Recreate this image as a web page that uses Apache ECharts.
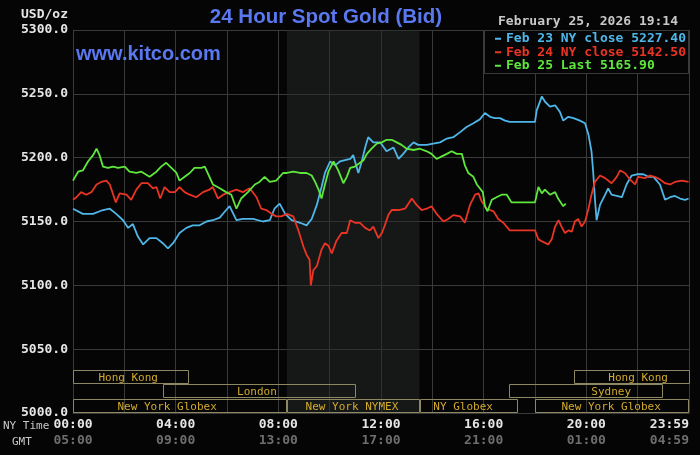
<!DOCTYPE html>
<html>
<head>
<meta charset="utf-8">
<script src="https://cdn.jsdelivr.net/npm/echarts@6/dist/echarts.min.js"></script>
<style>
html,body{margin:0;padding:0;background:#050506;}
#c{width:700px;height:455px;}
</style>
</head>
<body>
<div id="c"></div>
<script>
// ---------- data ----------
const seriesDays = ['Feb 23', 'Feb 24', 'Feb 25'];
const seriesKinds = ['NY close', 'NY close', 'Last'];
const seriesCloses = ['5227.40', '5142.50', '5165.90'];
const seriesColors = ['#4fb6e8', '#ea3424', '#5ee83c'];

// [minutes after 00:00 NY time, price]
const feb23 = [[0,5160],[23,5156],[47,5156],[70,5159],[86,5160],[101,5156],[117,5151],[129,5145],[140,5148],[152,5138],[164,5132],[179,5137],[195,5137],[210,5133],[222,5129],[234,5133],[249,5141],[265,5145],[280,5147],[296,5147],[312,5150],[327,5151],[343,5153],[358,5159],[366,5162],[382,5151],[397,5152],[421,5152],[444,5150],[460,5151],[471,5160],[483,5164],[496,5156],[511,5151],[531,5149],[546,5147],[558,5152],[570,5163],[581,5177],[589,5188],[601,5197],[613,5194],[624,5197],[636,5198],[648,5199],[655,5202],[667,5188],[675,5197],[683,5208],[690,5216],[702,5212],[718,5212],[733,5205],[749,5208],[761,5199],[772,5203],[784,5208],[796,5212],[807,5210],[827,5210],[842,5211],[858,5212],[874,5215],[889,5216],[905,5220],[920,5224],[936,5227],[951,5230],[963,5235],[975,5232],[986,5231],[998,5231],[1010,5229],[1021,5228],[1080,5228],[1084,5237],[1096,5248],[1103,5244],[1115,5240],[1127,5241],[1138,5236],[1146,5229],[1158,5232],[1170,5231],[1185,5229],[1197,5227],[1205,5218],[1212,5205],[1216,5189],[1220,5168],[1224,5151],[1232,5163],[1244,5171],[1251,5176],[1259,5171],[1271,5170],[1283,5169],[1294,5179],[1306,5186],[1318,5187],[1333,5187],[1345,5185],[1357,5185],[1372,5179],[1384,5167],[1396,5169],[1407,5170],[1419,5168],[1431,5167],[1439,5168]];

const feb24 = [[0,5167],[8,5169],[19,5173],[31,5171],[43,5173],[55,5179],[66,5181],[78,5182],[86,5179],[94,5171],[100,5165],[109,5172],[125,5171],[136,5167],[148,5175],[160,5180],[175,5180],[187,5176],[195,5177],[204,5168],[214,5177],[226,5173],[238,5173],[249,5177],[261,5173],[273,5171],[288,5169],[304,5173],[319,5175],[327,5177],[339,5168],[351,5171],[366,5173],[382,5175],[397,5173],[413,5176],[429,5169],[440,5160],[452,5159],[464,5156],[475,5154],[487,5154],[500,5156],[515,5154],[527,5143],[539,5130],[546,5124],[553,5120],[556,5100],[562,5112],[570,5115],[581,5128],[589,5133],[597,5131],[605,5125],[616,5135],[628,5141],[640,5141],[648,5151],[659,5149],[671,5149],[683,5145],[694,5143],[702,5146],[714,5137],[722,5141],[729,5147],[737,5155],[745,5159],[761,5159],[776,5160],[784,5164],[792,5168],[803,5163],[815,5159],[827,5160],[838,5162],[850,5156],[866,5150],[877,5152],[889,5155],[905,5154],[916,5149],[928,5163],[940,5171],[948,5172],[955,5166],[967,5160],[983,5158],[994,5152],[1006,5149],[1021,5143],[1080,5143],[1088,5136],[1099,5134],[1111,5132],[1119,5136],[1127,5146],[1135,5151],[1142,5146],[1150,5141],[1158,5143],[1166,5142],[1173,5150],[1181,5152],[1189,5146],[1197,5150],[1205,5160],[1212,5171],[1220,5181],[1232,5186],[1244,5184],[1259,5180],[1271,5185],[1279,5190],[1290,5188],[1302,5183],[1314,5179],[1321,5185],[1337,5184],[1349,5186],[1360,5185],[1372,5183],[1384,5180],[1396,5179],[1407,5181],[1423,5182],[1439,5181]];

const feb25 = [[0,5182],[12,5189],[23,5190],[35,5197],[47,5202],[55,5207],[62,5202],[70,5193],[82,5192],[94,5193],[105,5192],[121,5193],[132,5189],[148,5188],[160,5189],[179,5185],[195,5189],[206,5193],[218,5196],[230,5192],[242,5188],[249,5182],[261,5185],[273,5188],[284,5192],[300,5192],[308,5193],[319,5185],[327,5179],[343,5176],[358,5173],[370,5171],[382,5160],[393,5168],[409,5173],[425,5179],[436,5181],[448,5185],[460,5181],[475,5182],[491,5188],[500,5188],[515,5189],[531,5188],[546,5188],[558,5186],[566,5181],[574,5175],[581,5168],[589,5179],[597,5189],[609,5197],[620,5190],[632,5180],[640,5185],[648,5192],[659,5193],[671,5196],[679,5198],[687,5203],[698,5207],[710,5211],[722,5212],[733,5214],[745,5214],[757,5212],[768,5210],[780,5207],[796,5206],[811,5207],[827,5205],[838,5203],[850,5199],[862,5201],[874,5203],[885,5205],[897,5203],[909,5203],[916,5194],[924,5188],[936,5185],[944,5179],[951,5176],[958,5173],[963,5162],[969,5158],[979,5167],[990,5169],[1002,5171],[1014,5171],[1025,5165],[1080,5165],[1088,5177],[1096,5172],[1103,5175],[1115,5171],[1127,5173],[1134,5168],[1146,5162],[1152,5164]];

const nyTimeLabels = ['00:00','04:00','08:00','12:00','16:00','20:00','23:59'];
const gmtLabels = ['05:00','09:00','13:00','17:00','21:00','01:00','04:59'];

// trading sessions: name, start (min), end (min), row (0 = bottom), label centre (min)
const sessionNames = ['Hong Kong','London','New York Globex','New York NYMEX','NY Globex','Sydney','Hong Kong','New York Globex'];
const sessionStart = [0, 210, 0, 500, 810, 1020, 1170, 1080];
const sessionEnd   = [270, 660, 500, 810, 1040, 1380, 1440, 1440];
const sessionRow   = [2, 1, 0, 0, 0, 1, 2, 0];
const sessionLabelAt = [129, 430, 220, 652, 912, 1258, 1321, 1258];
const nymexShade = [500, 810];

const chartTitle = '24 Hour Spot Gold (Bid)';
const dateStamp = 'February 25, 2026 19:14';

// ---------- chart ----------
const MONO = '"DejaVu Sans Mono", "Liberation Mono", monospace';
const SANS = '"Liberation Sans", Arial, sans-serif';
const GRID = '#3a3a3a';
const chart = echarts.init(document.getElementById('c'), null, {renderer: 'canvas'});

const names = seriesDays.map((d, i) => d + ' ' + seriesKinds[i] + ' ' + seriesCloses[i]);
const lineData = [feb23, feb24, feb25];

const sessionData = sessionNames.map((n, i) => [sessionStart[i], sessionEnd[i], sessionRow[i], sessionLabelAt[i]]);

const series = lineData.map((d, i) => ({
  name: names[i],
  type: 'line',
  xAxisIndex: 0, yAxisIndex: 0,
  data: d,
  showSymbol: false,
  symbol: 'none',
  animation: false,
  lineStyle: {color: seriesColors[i], width: 1.8},
  itemStyle: {color: seriesColors[i]},
  z: 3 + i
}));
series[0].markArea = {
  silent: true,
  itemStyle: {color: 'rgba(40,44,40,0.5)'},
  data: [[{xAxis: nymexShade[0]}, {xAxis: nymexShade[1]}]]
};
series.push({
  type: 'custom',
  xAxisIndex: 1, yAxisIndex: 1,
  data: sessionData,
  animation: false,
  silent: true,
  z: 10,
  renderItem: function (params, api) {
    const s = api.value(0), e = api.value(1), r = api.value(2), c = api.value(3);
    const p1 = api.coord([s, r + 1]);
    const p2 = api.coord([e, r]);
    const pc = api.coord([c, r + 0.5]);
    return {
      type: 'group',
      children: [
        {type: 'rect', shape: {x: Math.round(p1[0]) + 0.5, y: Math.round(p1[1]) + 0.5, width: Math.round(p2[0] - p1[0]) - 1, height: Math.round(p2[1] - p1[1]) - 1},
         style: {fill: null, stroke: '#8d8862', lineWidth: 1}},
        {type: 'text', x: pc[0], y: pc[1] + 1,
         style: {text: sessionNames[params.dataIndex], fill: '#d2aa2c', font: '11px ' + MONO, textAlign: 'center', textVerticalAlign: 'middle'}}
      ]
    };
  }
});

chart.setOption({
  backgroundColor: '#050506',
  animation: false,
  grid: [
    {left: 73, right: 11, top: 30, bottom: 42, show: false},
    {left: 73, right: 11, top: 370, bottom: 42, show: false}
  ],
  xAxis: [
    {
      type: 'value', gridIndex: 0, min: 0, max: 1440, interval: 120,
      axisLine: {show: true, onZero: false, lineStyle: {color: GRID}},
      axisTick: {show: false},
      splitLine: {show: true, lineStyle: {color: GRID, width: 1}},
      axisLabel: {
        show: true, margin: 4, showMaxLabel: true, showMinLabel: true, alignMaxLabel: 'right',
        formatter: function (v) {
          if (v % 240 !== 0) return '';
          const k = v / 240;
          return '{a|' + nyTimeLabels[k] + '}\n{b|' + gmtLabels[k] + '}';
        },
        rich: {
          a: {color: '#e6e6e6', fontFamily: MONO, fontWeight: 'bold', fontSize: 13, lineHeight: 16},
          b: {color: '#6e6e6e', fontFamily: MONO, fontWeight: 'bold', fontSize: 13, lineHeight: 16}
        }
      }
    },
    {type: 'value', gridIndex: 1, min: 0, max: 1440, show: false}
  ],
  yAxis: [
    {
      type: 'value', gridIndex: 0, min: 5000, max: 5300, interval: 50,
      axisLine: {show: true, lineStyle: {color: GRID}},
      axisTick: {show: false},
      splitLine: {show: true, lineStyle: {color: GRID, width: 1}},
      axisLabel: {
        margin: 5, color: '#e6e6e6', fontFamily: MONO, fontWeight: 'bold', fontSize: 13,
        formatter: v => v.toFixed(1)
      }
    },
    {type: 'value', gridIndex: 1, min: 0, max: 3, show: false}
  ],
  legend: {
    orient: 'vertical',
    left: 490, top: 27,
    z: 60,
    itemWidth: 6, itemHeight: 2, itemGap: 0,
    icon: 'rect',
    selectedMode: false,
    data: names.map((n, i) => ({
      name: n,
      itemStyle: {color: seriesColors[i]},
      textStyle: {color: seriesColors[i], fontFamily: MONO, fontWeight: 'bold', fontSize: 13, lineHeight: 13.5, padding: [0, 0, 0, 0]}
    })),
    textStyle: {fontFamily: MONO, fontWeight: 'bold', fontSize: 13}
  },
  graphic: [
    {type: 'rect', z: 50, shape: {x: 484.5, y: 30.5, width: 204, height: 43}, style: {fill: '#050506', stroke: GRID, lineWidth: 1}},
    {type: 'text', z: 50, x: 326, y: 17, style: {text: chartTitle, fill: '#5a78f0', font: 'bold 20.5px ' + SANS, textAlign: 'center', textVerticalAlign: 'middle'}},
    {type: 'text', z: 50, x: 76, y: 54, style: {text: 'www.kitco.com', fill: '#5a78f0', font: 'bold 20px ' + SANS, textAlign: 'left', textVerticalAlign: 'middle'}},
    {type: 'text', z: 50, x: 68, y: 15, style: {text: 'USD/oz', fill: '#e6e6e6', font: 'bold 13px ' + MONO, textAlign: 'right', textVerticalAlign: 'middle'}},
    {type: 'text', z: 50, x: 498, y: 22, style: {text: dateStamp, fill: '#c8c8c8', font: 'bold 13px ' + MONO, textAlign: 'left', textVerticalAlign: 'middle'}},
    {type: 'text', z: 50, x: 3, y: 426, style: {text: 'NY Time', fill: '#c8c8c8', font: '11px ' + MONO, textAlign: 'left', textVerticalAlign: 'middle'}},
    {type: 'text', z: 50, x: 12, y: 442, style: {text: 'GMT', fill: '#c8c8c8', font: '11px ' + MONO, textAlign: 'left', textVerticalAlign: 'middle'}}
  ],
  series: series
});
</script>
</body>
</html>
